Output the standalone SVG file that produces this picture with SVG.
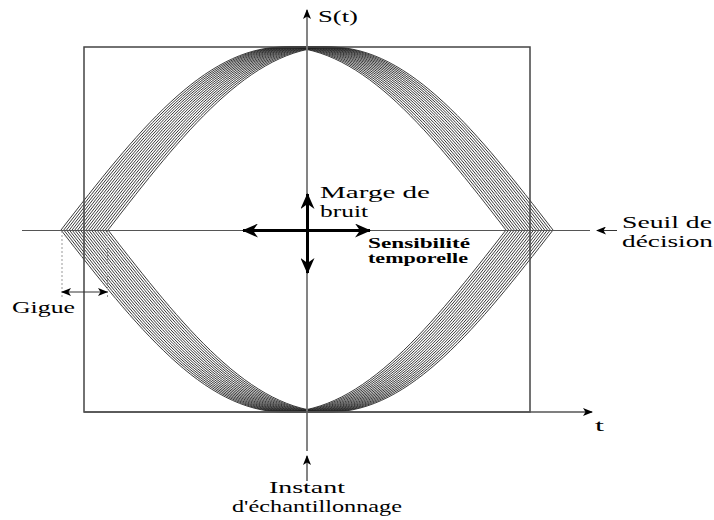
<svg xmlns="http://www.w3.org/2000/svg" xmlns:xlink="http://www.w3.org/1999/xlink" width="714" height="520" viewBox="0 0 714 520">
<style>
text{font-family:"Liberation Serif","Times New Roman",serif;fill:#000;}
.lbl{font-size:17px;}
.sm{font-size:14px;font-weight:bold;}
.eye{fill:none;stroke:#222;stroke-width:0.9;}
.ax{fill:none;stroke:#555;stroke-width:1.2;}
.thin{fill:none;stroke:#333;stroke-width:1;}
.big{fill:none;stroke:#000;stroke-width:3;}
.dash{fill:none;stroke:#999;stroke-width:1;stroke-dasharray:2,2;}
</style>
<defs>
<marker id="ah" markerWidth="10" markerHeight="8" refX="9" refY="4" orient="auto-start-reverse" markerUnits="userSpaceOnUse" viewBox="0 0 10 8">
<path d="M0,0 L10,4 L0,8 L2.5,4 Z" fill="#000"/>
</marker>
<marker id="bh" markerWidth="16" markerHeight="14" refX="15" refY="7" orient="auto-start-reverse" markerUnits="userSpaceOnUse" viewBox="0 0 16 14">
<path d="M0,0 L16,7 L0,14 L5,7 Z" fill="#000"/>
</marker>
<path id="eyeShape" class="eye" d="M0,0 C74.4,-96.1 142.6,-183 222.5,-183 C302.4,-183 370.6,-96.1 445,0 C370.6,95.6 302.4,182 222.5,182 C142.6,182 74.4,95.6 0,0 Z"/>
</defs>
<g id="eye-pattern">
<use xlink:href="#eyeShape" transform="translate(61,230)"/>
<use xlink:href="#eyeShape" transform="translate(63.76,230)"/>
<use xlink:href="#eyeShape" transform="translate(66.53,230)"/>
<use xlink:href="#eyeShape" transform="translate(69.29,230)"/>
<use xlink:href="#eyeShape" transform="translate(72.06,230)"/>
<use xlink:href="#eyeShape" transform="translate(74.82,230)"/>
<use xlink:href="#eyeShape" transform="translate(77.59,230)"/>
<use xlink:href="#eyeShape" transform="translate(80.35,230)"/>
<use xlink:href="#eyeShape" transform="translate(83.12,230)"/>
<use xlink:href="#eyeShape" transform="translate(85.88,230)"/>
<use xlink:href="#eyeShape" transform="translate(88.65,230)"/>
<use xlink:href="#eyeShape" transform="translate(91.41,230)"/>
<use xlink:href="#eyeShape" transform="translate(94.18,230)"/>
<use xlink:href="#eyeShape" transform="translate(96.94,230)"/>
<use xlink:href="#eyeShape" transform="translate(99.71,230)"/>
<use xlink:href="#eyeShape" transform="translate(102.47,230)"/>
<use xlink:href="#eyeShape" transform="translate(105.24,230)"/>
<use xlink:href="#eyeShape" transform="translate(108,230)"/>
</g>
<g id="connectors">
<rect x="84" y="47" width="446" height="365" fill="none" stroke="#444" stroke-width="1.5"/>
<path class="ax" d="M22,230.5 H590"/>
<path d="M307,451 V10" fill="none" stroke="#777" stroke-width="1.8" marker-end="url(#ah)"/>
<path d="M84,412 H592" fill="none" stroke="#555" stroke-width="1.5" marker-end="url(#ah)"/>
<path class="thin" d="M617,230.5 H597" marker-end="url(#ah)"/>
<path d="M307,481 V456" fill="none" stroke="#777" stroke-width="1.8" marker-end="url(#ah)"/>
<path class="dash" d="M62,231 V298 M107.5,231 V298"/>
<path class="thin" d="M62,292 H107" marker-start="url(#ah)" marker-end="url(#ah)"/>
<path class="big" d="M243,230.5 H370" marker-start="url(#bh)" marker-end="url(#bh)"/>
<path class="big" d="M307.5,194 V273" marker-start="url(#bh)" marker-end="url(#bh)"/>
</g>
<g id="labels">
<text class="lbl" x="318" y="22" textLength="40" lengthAdjust="spacingAndGlyphs">S(t)</text>
<text class="lbl" x="320" y="198" textLength="110" lengthAdjust="spacingAndGlyphs">Marge de</text>
<text class="lbl" x="320" y="217" textLength="48" lengthAdjust="spacingAndGlyphs">bruit</text>
<text class="sm" x="368" y="248" textLength="102" lengthAdjust="spacingAndGlyphs">Sensibilité</text>
<text class="sm" x="368" y="263" textLength="100" lengthAdjust="spacingAndGlyphs">temporelle</text>
<text class="lbl" x="622" y="228" textLength="90" lengthAdjust="spacingAndGlyphs">Seuil de</text>
<text class="lbl" x="622" y="247" textLength="91" lengthAdjust="spacingAndGlyphs">décision</text>
<text class="lbl" x="12" y="313" textLength="63" lengthAdjust="spacingAndGlyphs">Gigue</text>
<text class="lbl" x="595" y="431" textLength="9" lengthAdjust="spacingAndGlyphs">t</text>
<text class="lbl" x="269" y="493" textLength="76" lengthAdjust="spacingAndGlyphs">Instant</text>
<text class="lbl" x="232" y="512" textLength="170" lengthAdjust="spacingAndGlyphs">d'échantillonnage</text>
</g>
</svg>
